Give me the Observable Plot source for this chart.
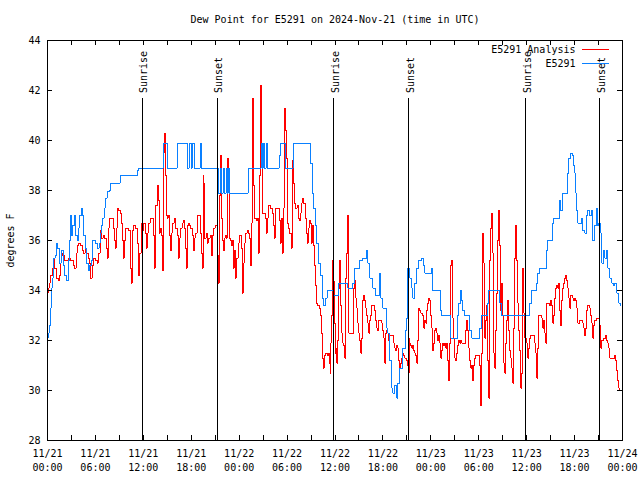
<!DOCTYPE html>
<html><head><meta charset="utf-8">
<script src="https://cdn.jsdelivr.net/npm/d3@7"></script>
<script src="https://cdn.jsdelivr.net/npm/@observablehq/plot@0.6"></script>
<style>html,body{margin:0;padding:0;background:#fff}svg{display:block}</style>
</head><body><div id="chart"></div>
<script>
const titleText = "Dew Point for E5291 on 2024-Nov-21 (time in UTC)";
const yLabelText = "degrees F";
const seriesNames = ["E5291 Analysis", "E5291"];
const seriesColors = ["#ff0000", "#0a80ff"];
const yTicks = [28, 30, 32, 34, 36, 38, 40, 42, 44];
const xLabelHours = [0, 6, 12, 18, 24, 30, 36, 42, 48, 54, 60, 66, 72];
const xTickHours = [0, 3, 6, 9, 12, 15, 18, 21, 24, 27, 30, 33, 36, 39, 42, 45, 48, 51, 54, 57, 60, 63, 66, 69, 72];
const sunHours = [11.87, 21.25, 35.86, 45.24, 59.89, 69.16];
const sunLabels = ["Sunrise", "Sunset", "Sunrise", "Sunset", "Sunrise", "Sunset"];

// [hours since 2024-11-21 00:00 UTC, dew point °F]
const analysisSeries = [
[0,33.9],[0.125,34.1],[0.25,34.3],[0.375,34.6],[0.625,34.9],[0.75,35.3],[0.875,34.9],[1.125,34.5],[1.375,34.4],[1.5,34.6],[1.625,35.1],[1.75,35.5],[1.875,35.4],[2.125,35.2],[2.375,35.2],[2.625,35.3],[2.875,35.2],[3.125,35.2],[3.25,35.0],[3.375,34.9],[3.625,35.5],[3.75,35.8],[3.875,35.9],[4.125,35.8],[4.375,35.6],[4.5,35.5],[4.75,35.7],[4.875,35.5],[5.125,35.3],[5.25,35.1],[5.375,34.5],[5.625,35.0],[5.75,35.3],[6,35.2],[6.25,35.1],[6.375,35.5],[6.625,36.4],[6.75,36.1],[7,36.2],[7.125,36.1],[7.375,35.7],[7.5,35.3],[7.625,36.5],[7.75,36.9],[8.125,36.9],[8.25,36.5],[8.375,36.0],[8.5,35.7],[8.625,36.5],[8.75,37.3],[8.875,37.2],[9.125,37.1],[9.25,36.7],[9.375,36.0],[9.5,35.3],[9.625,36.0],[9.75,36.5],[10.125,36.4],[10.375,34.9],[10.5,34.3],[10.625,36.4],[10.75,36.6],[11,36.5],[11.25,35.9],[11.375,34.6],[11.5,35.5],[11.75,36.7],[11.875,36.4],[12,36.7],[12.25,36.3],[12.375,35.7],[12.5,36.3],[12.625,36.7],[12.875,36.9],[13.125,36.9],[13.25,36.2],[13.375,34.9],[13.5,37.4],[13.75,38.2],[13.875,37.6],[14,36.3],[14.125,36.5],[14.25,36.2],[14.375,35.7],[14.44,34.8],[14.5,39.5],[14.625,40.3],[14.75,38.6],[14.875,37.0],[15,36.9],[15.125,37.0],[15.25,36.2],[15.375,35.6],[15.5,36.3],[15.625,36.7],[15.875,36.9],[16,36.5],[16.25,36.2],[16.375,35.3],[16.5,36.1],[16.625,36.5],[16.875,36.7],[17,36.8],[17.125,36.5],[17.25,35.7],[17.375,34.9],[17.5,36.6],[17.625,36.7],[17.75,36.6],[17.875,36.5],[18.125,36.2],[18.25,35.6],[18.375,36.1],[18.5,36.3],[18.75,37.0],[19,37.0],[19.125,36.3],[19.25,35.5],[19.375,34.9],[19.5,38.6],[19.56,38.3],[19.625,36.1],[19.875,36.3],[20,35.9],[20.125,36.1],[20.375,36.2],[20.5,35.4],[20.625,36.2],[20.75,36.5],[21,36.6],[21.125,36.6],[21.25,35.4],[21.375,34.3],[21.5,37.8],[21.625,39.4],[21.75,36.9],[21.875,36.0],[22,35.6],[22.125,36.1],[22.25,36.2],[22.375,36.1],[22.5,39.3],[22.625,38.6],[22.75,36.1],[22.875,36.0],[23,35.8],[23.125,36.0],[23.25,34.9],[23.375,35.6],[23.5,34.5],[23.625,35.3],[23.875,35.9],[24,36.2],[24.25,35.7],[24.375,33.9],[24.5,35.1],[24.625,35.9],[24.75,36.3],[25,36.4],[25.125,36.3],[25.25,36.1],[25.375,35.0],[25.5,36.7],[25.625,40.1],[25.69,41.7],[25.75,40.5],[25.81,38.2],[25.875,36.9],[26.125,36.8],[26.25,36.9],[26.375,35.5],[26.5,38.6],[26.625,42.2],[26.75,41.1],[26.81,39.5],[26.875,37.1],[27.125,37.1],[27.25,36.9],[27.375,36.3],[27.5,36.9],[27.625,37.4],[27.875,37.3],[28.125,37.1],[28.25,36.6],[28.375,36.1],[28.5,37.3],[28.875,37.3],[29,36.8],[29.125,35.9],[29.25,36.9],[29.375,35.5],[29.5,37.3],[29.625,41.3],[29.75,40.4],[29.875,39.3],[30,36.7],[30.125,36.5],[30.25,36.3],[30.5,35.7],[30.625,38.6],[30.69,39.2],[30.75,38.3],[30.875,37.5],[31,37.3],[31.25,37.4],[31.375,36.9],[31.5,36.8],[31.625,37.1],[31.75,37.5],[31.875,37.7],[32,37.5],[32.25,36.9],[32.375,36.3],[32.5,35.9],[32.625,36.5],[32.75,36.8],[32.875,36.7],[33,35.9],[33.125,36.6],[33.25,35.8],[33.375,35.0],[33.5,34.2],[33.625,33.5],[33.75,33.4],[34,33.3],[34.125,33.0],[34.25,32.3],[34.375,31.3],[34.5,30.9],[34.625,31.4],[34.75,31.5],[35,31.4],[35.125,31.5],[35.25,31.1],[35.375,30.7],[35.44,31.9],[35.5,33.0],[35.625,35.2],[35.75,34.4],[35.875,32.7],[36,31.5],[36.125,31.7],[36.25,31.1],[36.375,32.0],[36.5,34.1],[36.625,35.2],[36.75,33.4],[36.875,32.3],[37,31.9],[37.125,31.8],[37.25,31.3],[37.375,34.5],[37.5,35.5],[37.625,37.0],[37.75,32.3],[38.375,34.1],[38.5,34.4],[38.625,33.7],[38.75,33.3],[38.875,32.7],[39,32.3],[39.125,32.0],[39.25,31.5],[39.375,32.1],[39.5,33.6],[39.625,33.8],[39.75,33.6],[39.875,33.3],[40,33.0],[40.125,32.7],[40.25,32.3],[40.375,32.8],[40.5,33.0],[40.625,33.4],[41,33.2],[41.125,32.8],[41.25,32.5],[41.375,32.4],[41.5,32.8],[41.875,32.7],[42,32.4],[42.125,32.1],[42.25,31.1],[42.375,32.3],[42.5,32.4],[42.625,32.3],[42.75,32.0],[42.875,32.2],[43.375,31.9],[43.5,31.7],[43.625,31.6],[43.75,31.8],[43.875,31.7],[44,31.2],[44.125,30.9],[44.25,31.1],[44.375,31.3],[44.5,31.5],[44.625,31.4],[44.75,31.3],[45,31.2],[45.125,31.0],[45.25,30.7],[45.31,32.1],[45.375,31.9],[45.5,31.8],[45.625,31.7],[45.75,31.8],[45.875,31.6],[46,31.5],[46.125,31.4],[46.25,31.1],[46.375,32.0],[46.5,33.3],[46.625,33.2],[46.75,33.1],[47,33.0],[47.125,32.5],[47.25,32.8],[47.375,32.7],[47.5,33.2],[47.625,33.5],[47.75,33.7],[47.875,33.6],[48,33.0],[48.125,32.5],[48.25,31.6],[48.375,31.9],[48.5,32.4],[48.625,32.5],[48.75,32.3],[48.875,32.0],[49,32.2],[49.125,31.9],[49.25,31.3],[49.375,31.6],[49.5,31.9],[49.625,31.8],[49.75,31.9],[49.875,31.7],[50,31.9],[50.125,31.2],[50.25,30.4],[50.375,31.9],[50.5,35.0],[50.625,35.2],[50.75,32.9],[50.875,32.1],[51,31.3],[51.125,31.2],[51.25,31.5],[51.375,31.8],[51.5,32.0],[51.625,31.9],[51.75,32.0],[51.875,31.9],[52.375,32.4],[52.5,32.8],[52.625,32.4],[52.75,31.7],[52.875,31.2],[53,30.9],[53.125,31.0],[53.25,30.4],[53.375,31.0],[53.5,31.3],[53.625,31.4],[54.125,31.0],[54.25,29.4],[54.375,31.5],[54.5,36.3],[54.625,35.1],[54.75,32.1],[54.875,32.8],[55,33.4],[55.125,31.2],[55.25,29.7],[55.375,35.2],[55.5,36.5],[55.625,37.1],[55.75,35.5],[55.875,31.5],[56,30.9],[56.125,32.4],[56.25,33.9],[56.375,36.0],[56.5,37.2],[56.625,35.8],[56.75,33.2],[56.875,34.3],[57,33.0],[57.125,31.1],[57.25,30.7],[57.375,31.9],[57.5,32.8],[57.625,33.6],[57.75,32.4],[57.875,31.6],[58,31.3],[58.125,30.9],[58.25,30.3],[58.375,32.5],[58.5,35.3],[58.625,36.6],[58.75,35.2],[58.875,33.5],[59,32.4],[59.125,31.6],[59.25,30.1],[59.375,30.7],[59.5,34.9],[59.625,33.1],[59.75,32.1],[60,31.9],[60.125,31.3],[60.25,31.7],[60.375,32.1],[60.5,32.2],[61,31.9],[61.125,31.5],[61.25,30.5],[61.375,31.7],[61.5,33.0],[61.875,32.9],[62,32.5],[62.125,32.8],[62.25,32.3],[62.375,31.9],[62.5,33.5],[62.875,33.4],[63,33.6],[63.125,33.4],[63.25,32.7],[63.375,33.0],[63.5,33.7],[63.625,34.1],[63.75,34.2],[63.875,34.1],[64,34.3],[64.125,33.2],[64.25,32.6],[64.375,33.6],[64.5,34.1],[64.625,34.3],[64.75,34.5],[64.875,34.6],[65,34.4],[65.125,34.1],[65.25,33.7],[65.375,33.3],[65.5,33.8],[65.75,33.7],[65.875,33.6],[66,33.7],[66.125,33.6],[66.25,33.3],[66.375,32.7],[66.625,32.8],[67,32.7],[67.125,32.5],[67.25,32.2],[67.375,32.5],[67.5,33.2],[67.625,33.4],[67.875,33.3],[68,33.0],[68.125,32.7],[68.25,32.1],[68.375,32.6],[68.5,32.8],[68.75,32.9],[69.125,32.6],[69.25,31.7],[69.375,32.0],[69.625,32.1],[69.875,32.2],[70,32.0],[70.125,31.9],[70.25,31.7],[70.375,31.3],[71,31.4],[71.125,31.2],[71.25,30.8],[71.375,30.4],[71.5,30.1],[71.625,30.0],[71.75,30.0]
];

const stationSeries = [
[0,32.1],[0.125,32.3],[0.25,32.6],[0.375,33.3],[0.5,34.1],[0.625,34.5],[0.75,35.3],[1,35.4],[1.125,35.9],[1.25,35.7],[1.5,35.1],[1.75,35.6],[2,35.0],[2.125,34.6],[2.375,34.4],[2.625,35.2],[2.75,36.0],[2.875,37.0],[3,36.2],[3.125,36.6],[3.375,37.0],[3.5,36.2],[3.75,36.0],[3.875,36.5],[4,37.0],[4.25,37.3],[4.375,37.0],[4.5,36.2],[4.75,35.7],[4.875,35.1],[5.125,34.8],[5.25,35.0],[5.5,35.2],[5.625,36.0],[6,35.9],[6.25,35.7],[6.5,35.9],[6.625,36.3],[6.75,36.6],[6.875,36.9],[7.125,37.3],[7.25,37.7],[7.5,37.95],[7.75,38.0],[7.875,38.3],[9.125,38.6],[11.25,38.8],[11.375,38.9],[14.5,39.9],[15,38.9],[16.25,39.9],[17.5,38.9],[17.75,39.9],[18,38.9],[18.125,39.9],[18.375,38.9],[19.125,39.9],[19.25,38.9],[21.375,37.9],[21.625,38.9],[21.75,37.9],[22,38.9],[22.125,37.9],[22.375,38.9],[22.5,37.9],[22.625,38.9],[22.75,37.9],[25.125,38.9],[26.75,39.9],[26.875,38.9],[27,39.9],[27.125,38.9],[27.375,39.9],[27.5,38.9],[29,39.4],[29.125,39.9],[29.75,38.9],[30.75,39.9],[32.875,39.1],[33.125,37.9],[33.25,37.3],[33.5,36.6],[33.625,35.9],[33.875,35.1],[34.125,34.6],[34.375,33.7],[34.5,33.4],[34.75,33.7],[35,34.0],[35.75,33.8],[36.5,34.3],[37.625,34.1],[38.25,34.3],[38.5,34.9],[39.125,35.2],[39.5,35.3],[40,35.6],[40.125,35.1],[40.375,34.5],[40.75,34.1],[41.125,33.8],[41.625,34.7],[41.75,33.7],[42,33.3],[42.5,32.5],[42.625,32.3],[42.875,31.2],[43.125,30.1],[43.25,29.9],[43.5,30.2],[43.75,29.7],[43.875,30.3],[44.125,30.9],[44.5,31.7],[44.875,32.4],[45,32.9],[45.125,34.9],[45.375,34.5],[45.625,34.1],[45.75,33.7],[46,34.3],[46.25,34.9],[46.5,35.2],[46.875,35.3],[47.125,35.0],[47.25,34.7],[48.125,34.9],[48.25,34.0],[49.25,33.2],[49.375,33.0],[50.5,32.1],[51.375,33.0],[51.5,33.5],[51.75,34.0],[51.875,33.6],[52,33.2],[52.25,33.0],[52.875,32.4],[53.125,32.1],[54.125,32.5],[54.375,33.0],[55.125,33.5],[55.25,34.0],[56.625,33.5],[56.875,33.0],[60.375,33.5],[60.625,34.0],[61.25,34.3],[61.375,34.7],[61.625,34.9],[62.5,35.6],[62.625,36.0],[63.25,36.7],[63.375,36.9],[64.125,37.6],[64.25,37.2],[64.5,37.9],[65.125,38.7],[65.25,39.3],[65.5,39.5],[65.75,39.4],[65.875,39.0],[66,38.7],[66.125,37.9],[66.25,37.2],[66.375,36.7],[66.875,36.9],[67,36.4],[67.25,36.3],[67.5,37.0],[67.625,37.2],[67.875,37.0],[68.125,37.2],[68.25,36.0],[68.5,36.6],[68.75,37.3],[68.875,36.6],[69,36.7],[69.25,36.3],[69.375,35.1],[69.625,35.6],[69.75,35.3],[70,35.6],[70.125,34.9],[70.375,34.5],[70.625,34.3],[70.875,34.2],[71,34.3],[71.25,33.9],[71.5,33.5],[71.75,33.4]
];

const t0 = Date.UTC(2024, 10, 21);
const toDate = h => new Date(t0 + h * 3600e3);
const toRows = s => s.map(([h, v]) => ({time: toDate(h), value: v}));
const sunEvents = sunHours.map((h, i) => ({time: toDate(h), label: sunLabels[i]}));
const tickLen = 5;
const yPerPx = (yTicks[yTicks.length - 1] - yTicks[0]) / 400;
const hPerPx = 72 / 575;
const crisp = {shapeRendering: "crispEdges"};

const font = "'DejaVu Sans Mono', monospace";
const chart = Plot.plot({
  width: 640, height: 480,
  marginTop: 40, marginBottom: 40, marginLeft: 47, marginRight: 18,
  style: {fontFamily: font, fontSize: "10px", background: "#fff", color: "#000", overflow: "visible"},
  x: {type: "utc", domain: [toDate(0), toDate(72)]},
  y: {domain: [yTicks[0], yTicks[yTicks.length - 1]]},
  marks: [
    Plot.line(toRows(analysisSeries), {x: "time", y: "value", curve: "step-after", stroke: seriesColors[0], strokeWidth: 1, ...crisp}),
    Plot.line(toRows(stationSeries), {x: "time", y: "value", curve: "step-after", stroke: seriesColors[1], strokeWidth: 1, ...crisp}),
    Plot.ruleX(sunEvents, {x: "time", y1: yTicks[0], y2: 41.7, stroke: "#000", strokeWidth: 1, ...crisp}),
    Plot.text(sunEvents, {x: "time", y: 41.9, text: "label", rotate: -90, textAnchor: "start", lineAnchor: "middle", dx: 2, fontSize: 10}),
    Plot.ruleX(xTickHours.map(toDate), {x: d => d, y1: yTicks[0], y2: yTicks[0] + tickLen * yPerPx, stroke: "#000", ...crisp}),
    Plot.ruleX(xTickHours.map(toDate), {x: d => d, y1: yTicks[yTicks.length - 1] - tickLen * yPerPx, y2: yTicks[yTicks.length - 1], stroke: "#000", ...crisp}),
    Plot.ruleY(yTicks, {y: d => d, x1: toDate(0), x2: toDate(tickLen * hPerPx), stroke: "#000", ...crisp}),
    Plot.ruleY(yTicks, {y: d => d, x1: toDate(72 - tickLen * hPerPx), x2: toDate(72), stroke: "#000", ...crisp}),
    Plot.frame({stroke: "#000", ...crisp}),
    Plot.axisX({ticks: xLabelHours.map(toDate), tickSize: 0, tickPadding: 7, tickFormat: d3.utcFormat("%m/%d\n%H:%M"), label: null, lineHeight: 1.4, fontSize: 10}),
    Plot.axisY({ticks: yTicks, tickSize: 0, tickPadding: 7, label: null, fontSize: 10}),
    Plot.text([titleText], {frameAnchor: "top", dy: -21, lineAnchor: "middle", textAnchor: "middle", fontSize: 10}),
    Plot.text([yLabelText], {frameAnchor: "left", dx: -37, rotate: -90, lineAnchor: "middle", textAnchor: "middle", fontSize: 10}),
    Plot.text([seriesNames[0]], {frameAnchor: "top-right", dx: -47, dy: 9, textAnchor: "end", lineAnchor: "middle", fontSize: 10}),
    Plot.text([seriesNames[1]], {frameAnchor: "top-right", dx: -47, dy: 23, textAnchor: "end", lineAnchor: "middle", fontSize: 10})
  ]
});
document.getElementById("chart").appendChild(chart);

// legend sample lines
const svg = d3.select(chart);
seriesColors.forEach((c, i) => {
  svg.append("path")
    .attr("d", `M582,${49.5 + i * 14}H609`)
    .attr("fill", "none")
    .style("stroke", c)
    .style("stroke-width", "1px");
});
</script>
</body></html>
